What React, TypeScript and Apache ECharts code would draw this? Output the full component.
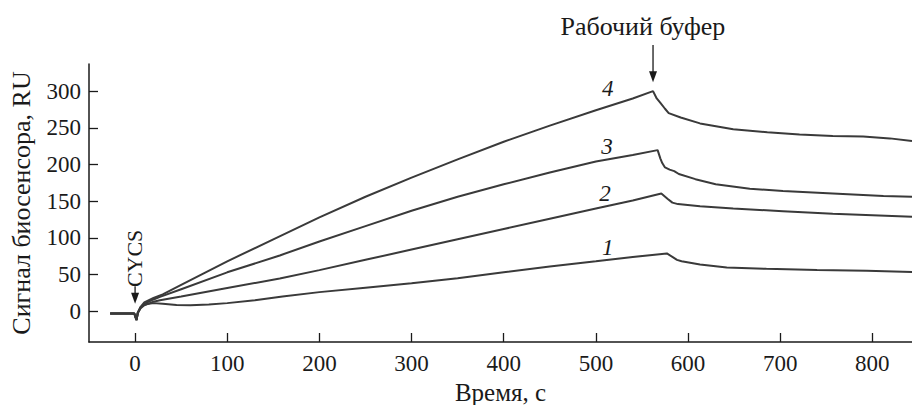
import React, { useEffect, useRef } from "react";
import * as echarts from "echarts";

// Time (s) and signal (RU) for each curve
const curve1T = [-27, -15, -5, -1, 0, 1.5, 3, 6, 10, 20, 30, 45, 60, 80, 100, 130, 160, 200, 250, 300, 350, 400, 450, 500, 540, 577, 583, 588, 593, 613, 642, 685, 740, 794, 843];
const curve1V = [-3, -3, -3, -3, -6, -12, -2, 5, 9, 11, 10, 8.5, 8, 9, 11, 15, 20, 26, 32, 38, 45, 53, 61, 68, 74, 78.7, 74, 70, 68, 63.7, 59.6, 57.7, 56, 55, 53.6];

const curve2T = [-27, -15, -5, -1, 0, 1.5, 3, 6, 10, 20, 27, 50, 100, 157, 200, 250, 300, 350, 400, 450, 500, 540, 571, 578, 583, 589, 613, 649, 703, 757, 843];
const curve2V = [-3, -3, -3, -3, -6, -12, -2, 4, 8, 13, 15, 20, 31.5, 44.6, 56, 70, 84, 98, 112, 126, 140, 151, 160.5, 153, 148, 146, 143, 140, 136.4, 133, 128.6];

const curve3T = [-27, -15, -5, -1, 0, 1.5, 3, 6, 10, 20, 27, 50, 100, 157, 200, 250, 300, 350, 400, 450, 500, 540, 567, 570, 572, 575, 580, 585, 590, 608, 630, 667, 703, 757, 812, 843];
const curve3V = [-3, -3, -3, -3, -6, -12, -2, 5, 10, 16, 19.5, 30, 53, 76, 95, 116, 137, 156, 173, 189, 204, 213, 219.6, 208, 202, 196, 193, 191, 187, 180, 173, 167, 164, 160.5, 157, 156];

const curve4T = [-27, -15, -5, -1, 0, 1.5, 3, 6, 10, 20, 30, 50, 75, 100, 150, 200, 250, 300, 350, 400, 450, 500, 540, 562, 566, 570, 575, 579, 592, 613, 649, 686, 721, 757, 790, 819, 843];
const curve4V = [-3, -3, -3, -3, -6, -12, -2, 6, 12, 18, 23, 36, 52, 68, 98, 128, 156, 182, 207, 231, 253, 274, 290, 300, 290, 284, 276, 270, 264, 256, 248, 244, 241, 239, 238, 235.6, 232];

const curveNames = ["1", "2", "3", "4"];
// label anchor positions in data coordinates [t, v]
const curveLabelPos = [[513, 87], [510, 161], [512, 224], [513, 304]];

const xTicks = [0, 100, 200, 300, 400, 500, 600, 700, 800];
const yTicks = [0, 50, 100, 150, 200, 250, 300];

const xName = "Время, с";
const yName = "Сигнал биосенсора, RU";
const injectLabel = "CYCS";
const bufferLabel = "Рабочий буфер";
// annotation anchors in data coordinates
const injectArrow = { t: 0, from: 34, to: 10, textV: 72 };
const bufferArrow = { t: 562, from: 363, to: 312, textT: 551, textV: 388 };

const FONT = '"Liberation Serif", "Times New Roman", serif';
const INK = "#1a1a1a";
const LINE = "#3a3a3a";

function pairs(t: number[], v: number[]) {
  return t.map((x, i) => [x, v[i]]);
}

export default function App() {
  const ref = useRef<HTMLDivElement>(null);
  useEffect(() => {
    if (!ref.current) return;
    const chart = echarts.init(ref.current, null, { renderer: "svg" });
    const series = [
      pairs(curve1T, curve1V),
      pairs(curve2T, curve2V),
      pairs(curve3T, curve3V),
      pairs(curve4T, curve4V),
    ].map((d, i) => ({
      type: "line",
      name: curveNames[i],
      data: d,
      showSymbol: false,
      symbol: "none",
      lineStyle: { color: LINE, width: 2 },
      z: 2,
    }));
    chart.setOption({
      animation: false,
      backgroundColor: "#ffffff",
      grid: { left: 89, right: 0, top: 64, bottom: 63, containLabel: false, outerBoundsMode: "none" },
      xAxis: {
        type: "value",
        min: -50,
        max: 843,
        name: xName,
        nameLocation: "middle",
        nameGap: 29,
        nameTextStyle: { fontFamily: FONT, fontSize: 25, color: INK, lineHeight: 26 },
        axisLine: { show: true, onZero: false, lineStyle: { color: INK, width: 1.5 } },
        axisTick: { show: true, inside: true, length: 9, customValues: xTicks, lineStyle: { color: INK, width: 1.3 } },
        axisLabel: { customValues: xTicks, fontFamily: FONT, fontSize: 23, color: INK, margin: 10 },
        splitLine: { show: false },
      },
      yAxis: {
        type: "value",
        min: -42,
        max: 337,
        name: yName,
        nameLocation: "middle",
        nameGap: 55,
        nameTextStyle: { fontFamily: FONT, fontSize: 26, color: INK },
        axisLine: { show: true, onZero: false, lineStyle: { color: INK, width: 1.5 } },
        axisTick: { show: true, inside: true, length: 9, customValues: yTicks, lineStyle: { color: INK, width: 1.3 } },
        axisLabel: { customValues: yTicks, fontFamily: FONT, fontSize: 23, color: INK, margin: 8 },
        splitLine: { show: false },
      },
      series,
    });

    const px = (t: number, v: number) => chart.convertToPixel({ gridIndex: 0 }, [t, v]) as number[];
    const graphics: any[] = [];
    curveLabelPos.forEach((p, i) => {
      const [x, y] = px(p[0], p[1]);
      graphics.push({
        type: "text",
        x,
        y,
        style: { text: curveNames[i], fontFamily: FONT, fontSize: 23, fontStyle: "italic", fill: INK, align: "center", verticalAlign: "middle" },
      });
    });
    const arrow = (x: number, y1: number, y2: number) => {
      graphics.push({ type: "line", shape: { x1: x, y1, x2: x, y2: y2 - 9 }, style: { stroke: INK, lineWidth: 1.3 } });
      graphics.push({ type: "polygon", shape: { points: [[x - 4, y2 - 11], [x + 4, y2 - 11], [x, y2]] }, style: { fill: INK } });
    };
    {
      const [ax, ay1] = px(injectArrow.t, injectArrow.from);
      const [, ay2] = px(injectArrow.t, injectArrow.to);
      arrow(ax, ay1, ay2);
      const [tx, ty] = px(injectArrow.t, injectArrow.textV);
      graphics.push({
        type: "text",
        x: tx - 1,
        y: ty,
        rotation: Math.PI / 2,
        style: { text: injectLabel, fontFamily: FONT, fontSize: 22, fill: INK, align: "center", verticalAlign: "middle" },
      });
    }
    {
      const [bx, by1] = px(bufferArrow.t, bufferArrow.from);
      const [, by2] = px(bufferArrow.t, bufferArrow.to);
      arrow(bx, by1, by2);
      const [tx, ty] = px(bufferArrow.textT, bufferArrow.textV);
      graphics.push({
        type: "text",
        x: tx,
        y: ty,
        style: { text: bufferLabel, fontFamily: FONT, fontSize: 26, fill: INK, align: "center", verticalAlign: "middle" },
      });
    }
    chart.setOption({ graphic: graphics });
    return () => chart.dispose();
  }, []);
  return <div ref={ref} style={{ position: "fixed", left: 0, top: 0, width: 912, height: 405 }} />;
}
